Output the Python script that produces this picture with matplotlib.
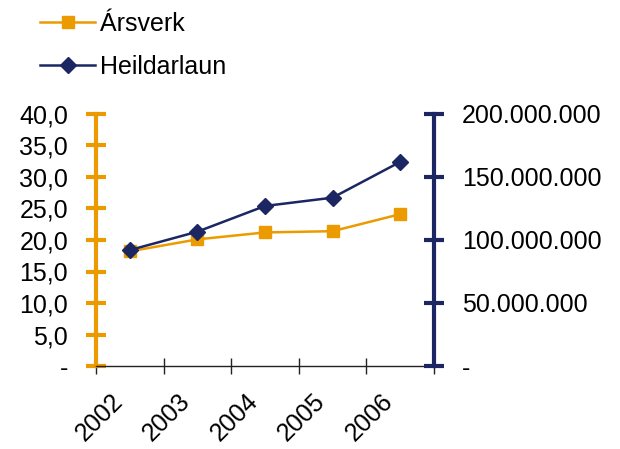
import matplotlib.pyplot as plt
import matplotlib.transforms as mtransforms
import numpy as np

plt.rcParams['font.family'] = ['Liberation Sans', 'DejaVu Sans']

years = ['2002', '2003', '2004', '2005', '2006']
arsverk = [18.2, 20.1, 21.2, 21.4, 24.1]
heildarlaun = [92000000, 106600000, 127000000, 133600000, 162000000]

left_ticks = [0, 5, 10, 15, 20, 25, 30, 35, 40]
left_labels = ['-', '5,0', '10,0', '15,0', '20,0', '25,0', '30,0', '35,0', '40,0']
right_ticks = [0, 50000000, 100000000, 150000000, 200000000]
right_labels = ['-', '50.000.000', '100.000.000', '150.000.000', '200.000.000']

orange = '#EB9B00'
navy = '#1C2662'

fig = plt.figure(figsize=(6.2, 4.49), dpi=100)
ax = fig.add_axes([96/620, 1 - 366/449, (434 - 96)/620, (366 - 114)/449])
ax2 = ax.twinx()

x = np.arange(len(years))
l1, = ax.plot(x, arsverk, color=orange, lw=1.8, marker='s', ms=8.5, label='Ársverk')
l2, = ax2.plot(x, heildarlaun, color=navy, lw=1.8, marker='D', ms=8, label='Heildarlaun')

ax.set_xlim(-0.5, len(years) - 0.5)
ax.set_ylim(0, 40)
ax2.set_ylim(0, 200000000)

# category boundaries as ticks, labels at centres
ax.set_xticks(np.arange(-0.5, len(years)), [''] * (len(years) + 1))
ax.set_xticks(x, years, minor=True)
ax.tick_params(axis='x', which='major', direction='inout', length=12, width=1, color='#222222')
ax.tick_params(axis='x', which='minor', length=0, pad=23, labelsize=18)
shift = mtransforms.ScaledTranslation(-11/100, 0, fig.dpi_scale_trans)
for t in ax.get_xticklabels(minor=True):
    t.set_rotation(45)
    t.set_ha('right')
    t.set_va('center')
    t.set_rotation_mode('anchor')
    t.set_transform(t.get_transform() + shift)

ax.set_yticks(left_ticks, left_labels)
ax.tick_params(axis='y', direction='inout', length=14, width=3, color=orange, pad=13, labelsize=18)
ax2.set_yticks(right_ticks, right_labels)
ax2.tick_params(axis='y', direction='inout', length=14, width=3, color=navy, pad=13, labelsize=18)

for s in ['top', 'right']:
    ax.spines[s].set_visible(False)
for s in ['top', 'left', 'bottom']:
    ax2.spines[s].set_visible(False)
ax.spines['left'].set_color(orange)
ax.spines['left'].set_linewidth(3)
ax.spines['bottom'].set_color('#222222')
ax.spines['bottom'].set_linewidth(1)
ax2.spines['right'].set_color(navy)
ax2.spines['right'].set_linewidth(3)

fig.legend([l1, l2], ['Ársverk', 'Heildarlaun'], loc='upper left',
           bbox_to_anchor=(40/620, 1 - 12/449), frameon=False, fontsize=18,
           numpoints=1, handlelength=2.2, handletextpad=0.2,
           labelspacing=0.75, borderpad=0, borderaxespad=0)

fig.savefig('out.png', dpi=100)
